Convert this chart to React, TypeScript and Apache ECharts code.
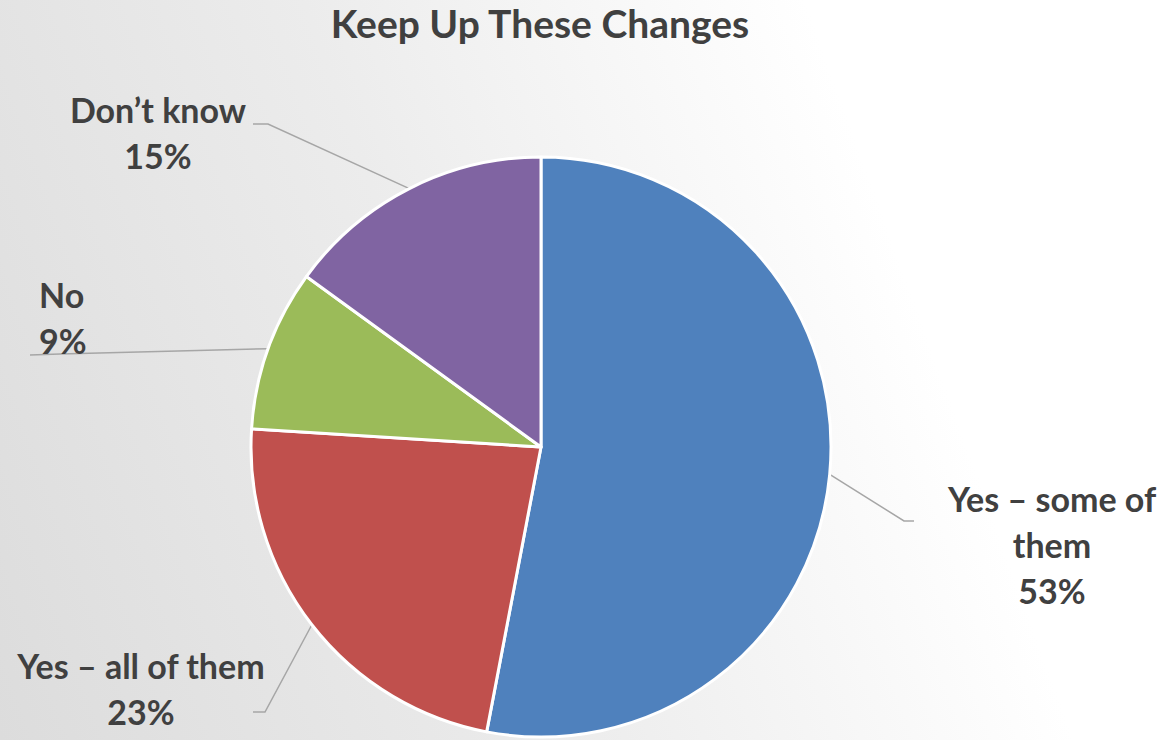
import React, { useEffect, useRef } from "react";
import * as echarts from "echarts";

const title = "Keep Up These Changes";
const categories = ["Yes – some of them", "Yes – all of them", "No", "Don’t know"];
const labelTexts = ["Yes – some of\nthem", "Yes – all of them", "No", "Don’t know"];
const values = [53, 23, 9, 15];
const colors = ["#4F81BD", "#C0504D", "#9BBB59", "#8064A2"];

// label placement (layout only): [x, y, align, elbowX, elbowY, endX, endY]
const labelPlacement: [number, number, string, number, number, number, number][] = [
  [1052, 544, "center", 904, 521, 914, 521],
  [141, 688, "center", 265, 712, 253, 712],
  [39, 317, "left", 60, 354, 30, 355],
  [158, 132, "center", 268, 124, 253, 124],
];

export default function App() {
  const ref = useRef<HTMLDivElement>(null);
  useEffect(() => {
    document.body.style.margin = "0";
    const chart = echarts.init(ref.current!, null, { renderer: "svg" });
    const font = "Lato, 'Open Sans', sans-serif";
    chart.setOption({
      animation: false,
      title: {
        text: title,
        left: 535,
        textAlign: "center",
        top: -2,
        textStyle: { fontFamily: font, fontWeight: "bold", fontSize: 39, color: "#404040" },
      },
      series: [
        {
          type: "pie",
          center: [541, 447],
          radius: [0, 290],
          startAngle: 90,
          clockwise: true,
          itemStyle: { borderColor: "#ffffff", borderWidth: 3 },
          data: categories.map((c, i) => ({
            name: c,
            value: values[i],
            itemStyle: { color: colors[i] },
          })),
          label: {
            show: true,
            position: "outside",
            fontFamily: font,
            fontWeight: "bold",
            fontSize: 34,
            lineHeight: 46,
            color: "#404040",
            formatter: (p: any) => `${labelTexts[p.dataIndex]}\n${p.value}%`,
          },
          labelLine: {
            show: true,
            length: 30,
            length2: 20,
            lineStyle: { color: "#A6A6A6", width: 1.5 },
          },
          labelLayout: (params: any) => {
            const pl = labelPlacement[params.dataIndex];
            const pts = params.labelLinePoints;
            const start = pts ? pts[0] : [0, 0];
            return {
              x: pl[0],
              y: pl[1],
              align: pl[2],
              verticalAlign: "middle",
              labelLinePoints: [start, [pl[3], pl[4]], [pl[5], pl[6]]],
            };
          },
        },
      ],
    });
    return () => chart.dispose();
  }, []);
  return (
    <div
      ref={ref}
      style={{
        width: 1163,
        height: 740,
        background: "linear-gradient(70deg, #dcdcdc 0%, #ececec 40%, #ffffff 75%, #ffffff 100%)",
      }}
    />
  );
}
